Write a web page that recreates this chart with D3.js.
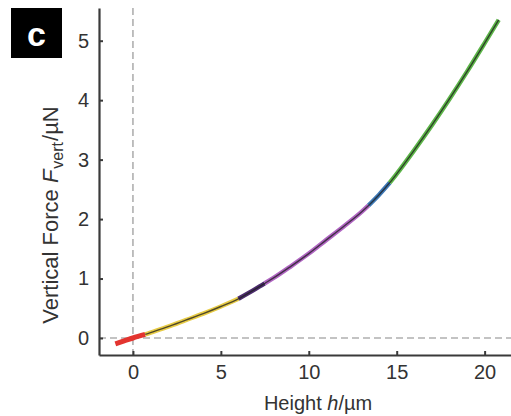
<!DOCTYPE html>
<html>
<head>
<meta charset="utf-8">
<script src="https://cdn.jsdelivr.net/npm/d3@7.9.0/dist/d3.min.js"></script>
<style>
  html, body { margin: 0; padding: 0; background: #fff; }
  svg { display: block; font-family: "Liberation Sans", Arial, sans-serif; }
</style>
</head>
<body>
<div id="chart"></div>
<script>
// values
const heights = [-1.0, -0.5, 0, 0.7, 1, 2, 3, 4, 5, 6, 7, 7.5, 8, 9, 10, 11, 12, 13, 13.4, 14, 14.6, 15, 16, 17, 18, 19, 20, 20.8];
const forces  = [-0.10, -0.05, 0.0, 0.06, 0.09, 0.19, 0.30, 0.41, 0.53, 0.66, 0.83, 0.92, 1.01, 1.21, 1.42, 1.65, 1.88, 2.12, 2.23, 2.41, 2.61, 2.76, 3.16, 3.58, 4.02, 4.48, 4.96, 5.35];

// coloured sections of the curve
const segStart  = [-1.0, 0.7, 6.0, 7.5, 13.4, 14.6];
const segEnd    = [0.7, 6.0, 7.5, 13.4, 14.6, 20.8];
const segColors = ["#e3342f", "#e8cc46", "#4d2c6e", "#b065c2", "#3d78b6", "#5cb548"];

const xTicks = [0, 5, 10, 15, 20];
const yTicks = [0, 1, 2, 3, 4, 5];

const width = 511, height = 416;
const points = heights.map((h, i) => ({ h, f: forces[i] }));

const x = d3.scaleLinear().domain([-1.93, 21.5]).range([99, 511]);
const y = d3.scaleLinear().domain([-0.286, 5.55]).range([355, 8]);

const svg = d3.select("#chart").append("svg")
  .attr("width", width)
  .attr("height", height);

// dashed zero lines
svg.append("line")
  .attr("x1", x(0)).attr("x2", x(0))
  .attr("y1", y.range()[1]).attr("y2", y.range()[0])
  .attr("stroke", "#b0b0b0").attr("stroke-width", 1.6)
  .attr("stroke-dasharray", "7,4");

svg.append("line")
  .attr("x1", x.range()[0]).attr("x2", x.range()[1])
  .attr("y1", y(0)).attr("y2", y(0))
  .attr("stroke", "#b0b0b0").attr("stroke-width", 1.6)
  .attr("stroke-dasharray", "7,4");

// curve
const line = d3.line()
  .x(d => x(d.h))
  .y(d => y(d.f))
  .curve(d3.curveMonotoneX);

segStart.forEach((s, i) => {
  const pts = points.filter(d => d.h >= s && d.h <= segEnd[i]);
  svg.append("path")
    .datum(pts)
    .attr("d", line)
    .attr("fill", "none")
    .attr("stroke", segColors[i])
    .attr("stroke-width", i === 0 ? 5 : 4.5)
    .attr("stroke-linecap", "butt");
});

svg.append("path")
  .datum(points.filter(d => d.h >= 0.7))
  .attr("d", line)
  .attr("fill", "none")
  .attr("stroke", "#1e1e1e")
  .attr("stroke-opacity", 0.75)
  .attr("stroke-width", 1.4);

// axes
const axisColor = "#3a3a3a";

const xAxis = svg.append("g")
  .attr("transform", `translate(0, ${y.range()[0]})`)
  .call(d3.axisBottom(x).tickValues(xTicks).tickFormat(d3.format("d"))
    .tickSizeInner(-4).tickSizeOuter(0).tickPadding(10));

const yAxis = svg.append("g")
  .attr("transform", `translate(${x.range()[0]}, 0)`)
  .call(d3.axisLeft(y).tickValues(yTicks).tickFormat(d3.format("d"))
    .tickSizeInner(-4).tickSizeOuter(0).tickPadding(10));

[xAxis, yAxis].forEach(g => {
  g.select(".domain").attr("stroke", axisColor).attr("stroke-width", 2.2);
  g.selectAll(".tick line").attr("stroke", axisColor).attr("stroke-width", 2);
  g.selectAll(".tick text")
    .attr("fill", "#333")
    .style("font-size", "20px")
    .style("font-family", "'Liberation Sans', Arial, sans-serif");
});

// axis titles
const xTitle = svg.append("text")
  .attr("x", 318).attr("y", 410)
  .attr("text-anchor", "middle")
  .attr("fill", "#333")
  .style("font-size", "20px");
xTitle.append("tspan").text("Height ");
xTitle.append("tspan").style("font-style", "italic").text("h");
xTitle.append("tspan").text("/\u00b5m");

const yTitle = svg.append("text")
  .attr("transform", "translate(58, 215) rotate(-90)")
  .attr("text-anchor", "middle")
  .attr("fill", "#333")
  .style("font-size", "22px");
yTitle.append("tspan").text("Vertical Force ");
yTitle.append("tspan").style("font-style", "italic").text("F");
yTitle.append("tspan").attr("dy", 5).attr("dx", 1).style("font-size", "16px").text("vert");
yTitle.append("tspan").attr("dy", -5).attr("dx", 1).text("/\u00b5N");

// panel label
svg.append("rect")
  .attr("x", 11).attr("y", 8)
  .attr("width", 51).attr("height", 50)
  .attr("fill", "#000");
svg.append("text")
  .attr("x", 36.5).attr("y", 46)
  .attr("text-anchor", "middle")
  .attr("fill", "#fff")
  .style("font-size", "34px")
  .style("font-weight", "bold")
  .text("c");
</script>
</body>
</html>
